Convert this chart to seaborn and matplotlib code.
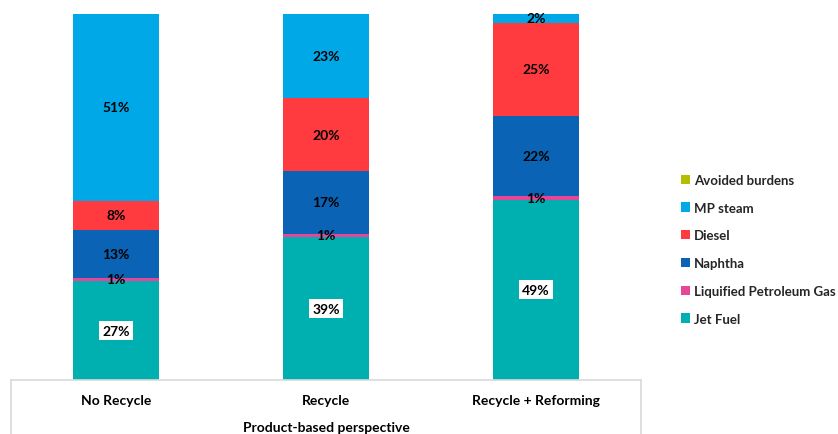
import matplotlib
matplotlib.use("Agg")
import matplotlib.pyplot as plt
from matplotlib.patches import Patch
import seaborn as sns
import pandas as pd
import numpy as np

categories = ["No Recycle", "Recycle", "Recycle + Reforming"]
jet_fuel = [27.0, 39.0, 49.3]
lpg = [1.0, 1.0, 1.1]
naphtha = [13.0, 17.0, 21.8]
diesel = [8.0, 20.0, 25.4]
mp_steam = [51.0, 23.0, 2.4]
avoided = [0.0, 0.0, 0.0]
xlabel = "Product-based perspective"

series = [
    ("Jet Fuel", jet_fuel, "#00B0B0"),
    ("Liquified Petroleum Gas", lpg, "#E8449A"),
    ("Naphtha", naphtha, "#0B63B5"),
    ("Diesel", diesel, "#FF3B3F"),
    ("MP steam", mp_steam, "#00A8E8"),
    ("Avoided burdens", avoided, "#B5BD00"),
]

sns.set_theme(style="white")
plt.rcParams["font.family"] = ["Lato", "DejaVu Sans"]

fig = plt.figure(figsize=(8.38, 4.35), dpi=100)
W, H = 838, 435
ax = fig.add_axes([11 / W, 54 / H, 630 / W, 366 / H])

# cumulative stacks, drawn from top down so each overlays the one above
cum = np.cumsum(np.array([s[1] for s in series[:5]]), axis=0)
for i in range(4, -1, -1):
    df = pd.DataFrame({"cat": categories, "val": cum[i]})
    sns.barplot(data=df, x="cat", y="val", color=series[i][2], width=0.405,
                saturation=1, linewidth=0, ax=ax, order=categories)

FS = 10
# labels
for i in range(5):
    name, vals, _ = series[i]
    for j, v in enumerate(vals):
        center = cum[i][j] - v / 2
        txt = f"{round(v)}%"
        if i == 0:
            ax.text(j, center, txt, ha="center", va="center", fontsize=FS,
                    fontweight="bold", color="black",
                    bbox=dict(facecolor="white", edgecolor="none", pad=2.5))
        else:
            ax.text(j, center, txt, ha="center", va="center", fontsize=FS,
                    fontweight="bold", color="black")

ax.set_xlim(-0.5, 2.5)
ax.set_ylim(0, 100)
ax.set_yticks([])
ax.set_xlabel("")
ax.set_ylabel("")
ax.set_xticks([])
for sp in ["top", "right", "left"]:
    ax.spines[sp].set_visible(False)
ax.spines["bottom"].set_color("#D9D9D9")
ax.spines["bottom"].set_linewidth(1.2)

# category table box
for xx in [-0.5, 2.5]:
    ax.plot([xx, xx], [0, -54 / 366 * 100], color="#D9D9D9", lw=1.2,
            clip_on=False)
for j, c in enumerate(categories):
    ax.text(j, -20 / 366 * 100, c, ha="center", va="center", fontsize=FS,
            fontweight="bold", color="black")
ax.text(1, -47 / 366 * 100, xlabel, ha="center", va="center", fontsize=FS,
        fontweight="bold", color="black")

handles = [Patch(facecolor=s[2], edgecolor="none", label=s[0]) for s in series[::-1]]
fig.legend(handles=handles, loc="upper left", bbox_to_anchor=(681 / W, 1 - 175 / H),
           frameon=False, handlelength=0.7, handleheight=0.7, handletextpad=0.3,
           labelspacing=1.19, borderaxespad=0, borderpad=0,
           prop=dict(size=9.5, weight="bold"))

fig.savefig("out.png", dpi=100)
